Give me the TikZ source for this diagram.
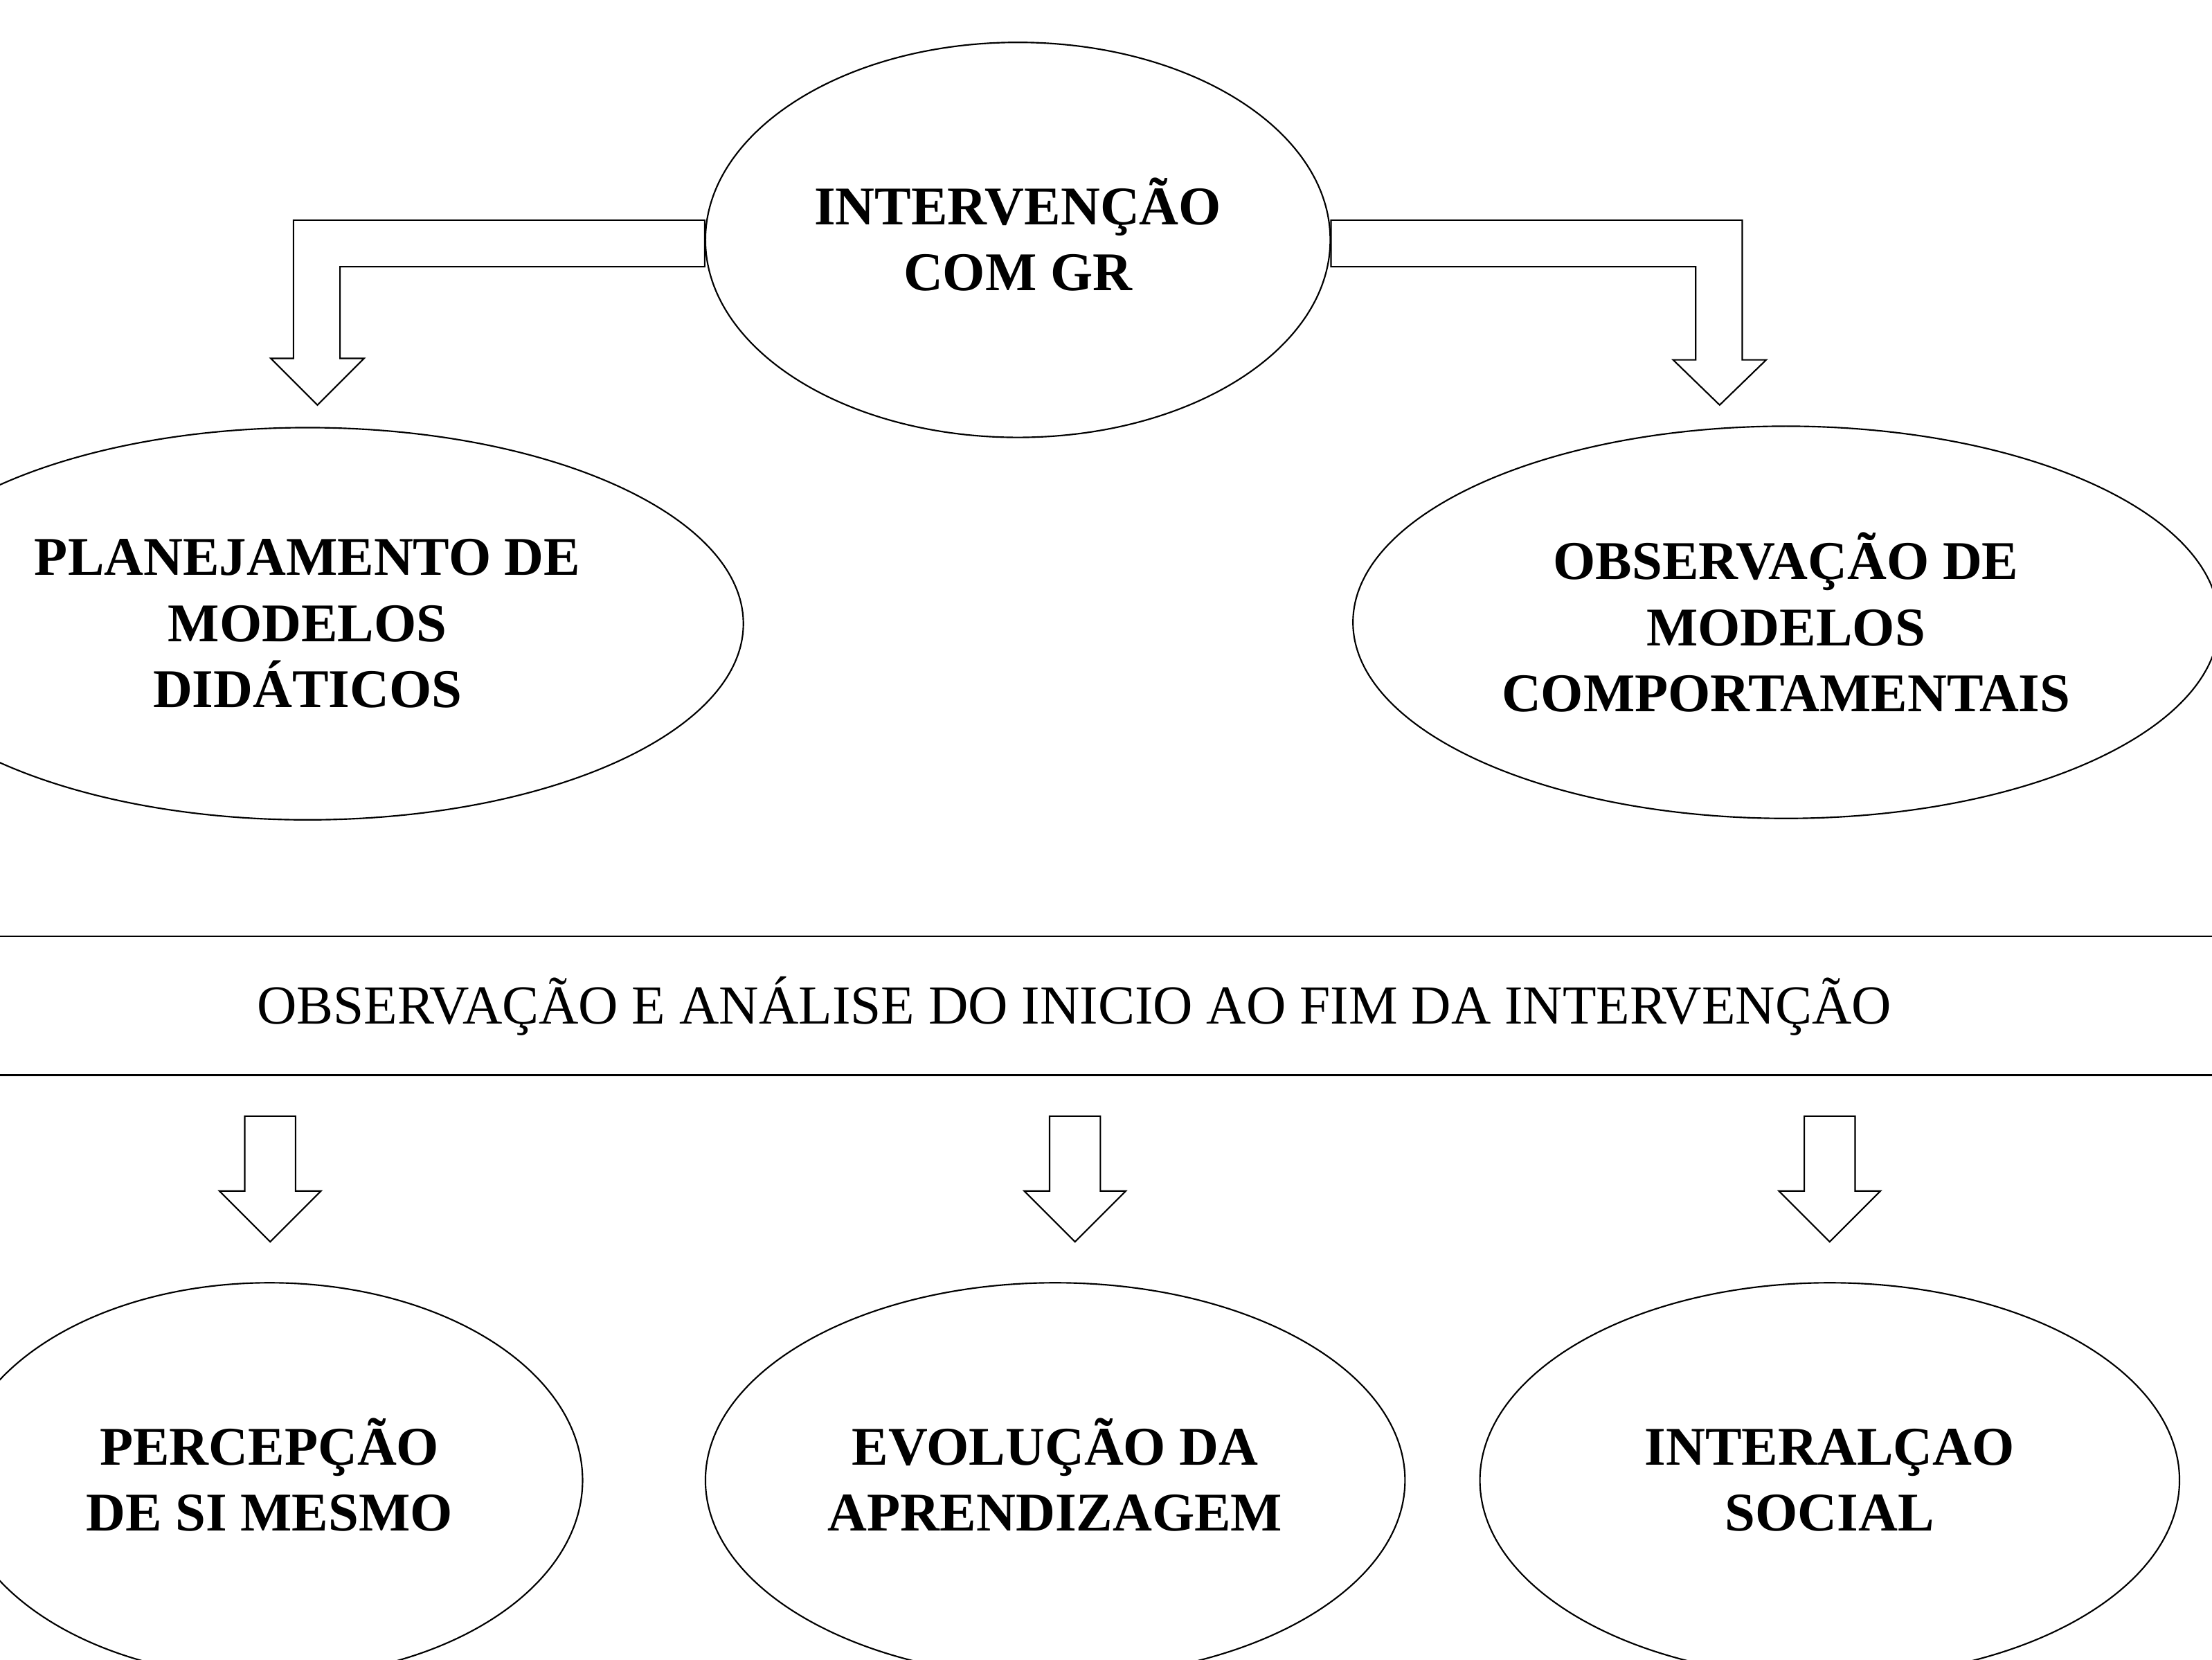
\documentclass[tikz,border=0pt]{standalone}
\usepackage{fontspec}
\setmainfont{Liberation Serif}
\usetikzlibrary{shapes.geometric}
\usetikzlibrary{positioning}

\begin{document}
\begin{tikzpicture}[x=0.02cm,y=-0.02cm,
    bubble/.style={draw,ellipse,inner sep=0pt,align=center,line width=0.6pt,
      font=\fontsize{22}{26.7}\selectfont\bfseries},
    blockarrow/.style={draw,line width=0.6pt,line join=miter}]
  \useasboundingbox (0,0) rectangle (1568,1176);
  % top
  \node[bubble,minimum width=8.86cm,minimum height=5.6cm] (interv) at (721.5,170) {\smash{INTERVENÇÃO}\vphantom{IÇ}\\COM GR};
  \node[bubble,minimum width=12.36cm,minimum height=5.56cm] (plan) at (218,442) {PLANEJAMENTO DE\\MODELOS\\DIDÁTICOS};
  \node[bubble,minimum width=12.28cm,minimum height=5.56cm] (obsmod) at (1266,441) {OBSERVAÇÃO DE\\MODELOS\\COMPORTAMENTAIS};
  \draw[blockarrow] ([yshift=0.28cm]interv.west) -- ++(-291.5,0) -- ++(0,98) -- ++(-16,0)
    -- ++(33,33) -- ++(33,-33) -- ++(-17,0) -- ++(0,-65) -- ++(258.5,0) -- cycle;
  \draw[blockarrow] ([yshift=0.28cm]interv.east) -- ++(291.5,0) -- ++(0,99) -- ++(17,0)
    -- ++(-33,32) -- ++(-33,-32) -- ++(16,0) -- ++(0,-66) -- ++(-258.5,0) -- cycle;
  % middle band
  \coordinate (bandtl) at (0,663.5);
  \coordinate (bandbl) at (0,762);
  \draw[line width=0.8pt] (bandtl) -- ++(1568,0);
  \draw[line width=0.8pt] (bandbl) -- ++(1568,0);
  \node[font=\fontsize{22.2}{26.7}\selectfont] (band) at (761.5,713) {OBSERVAÇÃO E ANÁLISE DO INICIO AO FIM DA INTERVENÇÃO};
  % bottom
  \node[bubble,minimum width=8.88cm,minimum height=5.6cm] (percep) at (191,1049) {\smash{PERCEPÇÃO}\vphantom{IÇ}\\DE SI MESMO};
  \node[bubble,minimum width=9.92cm,minimum height=5.6cm] (evol) at (748,1049) {\smash{EVOLUÇÃO DA}\vphantom{IÇ}\\APRENDIZAGEM};
  \node[bubble,minimum width=9.92cm,minimum height=5.6cm] (inter) at (1297,1049) {INTERALÇAO\\SOCIAL};
  \coordinate (a1) at (173.5,791);
  \coordinate (a2) at (744,791);
  \coordinate (a3) at (1279,791);
  \foreach \a in {a1,a2,a3}
    \draw[blockarrow] (\a) -- ++(36,0) -- ++(0,53) -- ++(18,0) -- ++(-36,36)
      -- ++(-36,-36) -- ++(18,0) -- cycle;
\end{tikzpicture}
\end{document}
